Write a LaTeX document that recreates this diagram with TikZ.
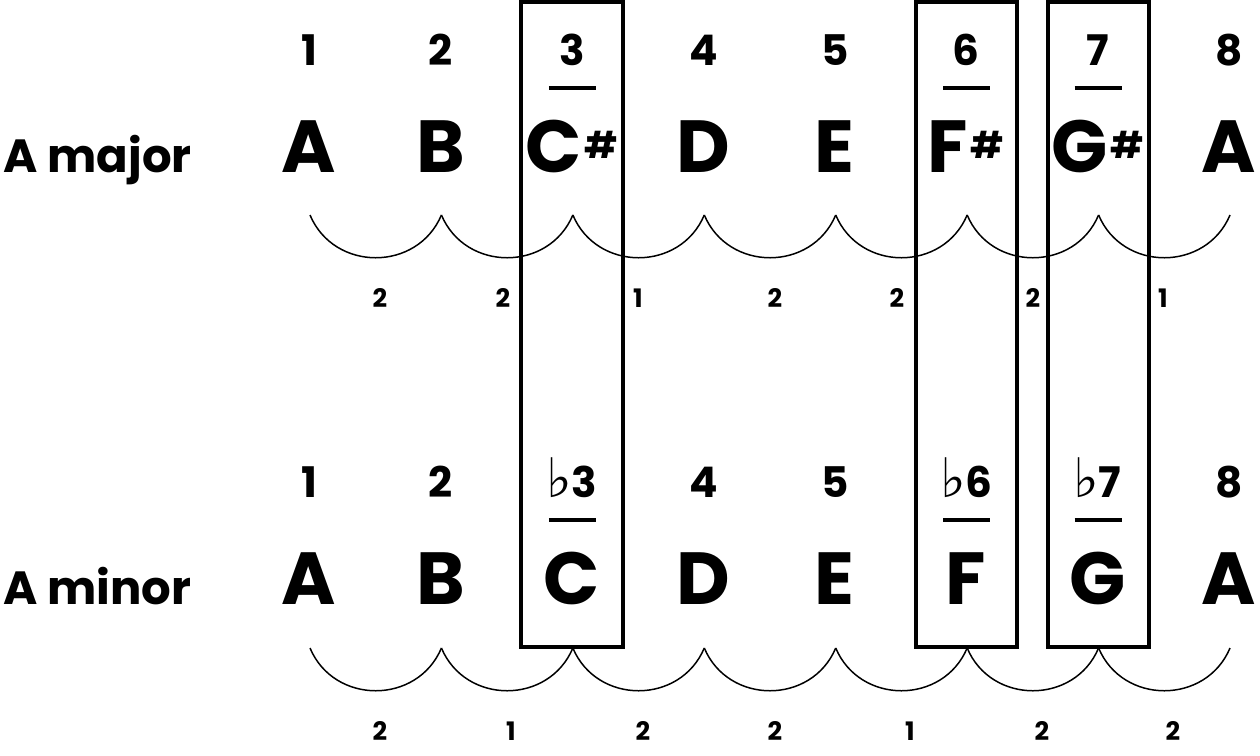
\documentclass[tikz,border=0pt]{standalone}
\usepackage{fontspec}
\setmainfont{Poppins}
\newfontfamily\symfont{DejaVu Sans}
\usetikzlibrary{calc}
\newcommand{\sh}[1]{#1\kern1.5pt\raisebox{7.5pt}{\fontsize{21}{21}\selectfont\#}}
\newcommand{\fl}[1]{{\symfont\fontsize{31}{31}\selectfont\mdseries ♭}\kern-0.5pt#1}
\tikzset{
  notename/.style={font=\fontsize{42}{42}\selectfont\bfseries, inner sep=0pt, anchor=base},
  degnum/.style={font=\fontsize{24}{24}\selectfont\bfseries, inner sep=0pt, anchor=base},
  stepnum/.style={font=\fontsize{14.5}{14.5}\selectfont\bfseries, inner sep=0pt, anchor=base},
  rowlab/.style={font=\fontsize{26.5}{26.5}\selectfont\bfseries, inner sep=0pt, anchor=base west},
  keybox/.style={draw, line width=2.3pt},
  halfbar/.style={line width=2.2pt},
  scoop/.style={line width=0.85pt},
}
\begin{document}
\begin{tikzpicture}[x=0.02cm,y=-0.02cm]
\useasboundingbox (0,0) rectangle (1260,755);
% boxes round the changed degrees
\draw[keybox] (521,2) rectangle (623,647);
\draw[keybox] (916,2) rectangle (1017,647);
\draw[keybox] (1048,2) rectangle (1149,647);
% row labels
\node[rowlab] (lmaj) at (3,172) {A major};
\node[rowlab] (lmin) at (3,604) {A minor};
% A major
\foreach \d/\n [count=\i] in {1/A,2/B,3/\sh{C},4/D,5/E,6/\sh{F},7/\sh{G},8/A}{
  \node[degnum] (jd\i) at ({309+(\i-1)*131.43},65) {\d};
  \node[notename] (jn\i) at ({309+(\i-1)*131.43},172) {\n};
  \coordinate (jc\i) at ({310+(\i-1)*131.43},215);
}
% A minor
\foreach \d/\n [count=\i] in {1/A,2/B,\fl{3}/C,4/D,5/E,\fl{6}/F,\fl{7}/G,8/A}{
  \node[degnum] (nd\i) at ({309+(\i-1)*131.43},497) {\d};
  \node[notename] (nn\i) at ({309+(\i-1)*131.43},604) {\n};
  \coordinate (nc\i) at ({310+(\i-1)*131.43},648);
}
% bars under altered degrees
\foreach \i in {3,6,7}{
  \draw[halfbar] ($(jn\i.base)+(-23,-84)$) -- ($(jn\i.base)+(24,-84)$);
  \draw[halfbar] ($(nn\i.base)+(-23,-84)$) -- ($(nn\i.base)+(24,-84)$);
}
% whole and half steps
\foreach \i [count=\j from 2] in {1,...,7}{
  \draw[scoop] (jc\i) .. controls +(24,57) and +(-24,57) .. (jc\j);
  \draw[scoop] (nc\i) .. controls +(24,57) and +(-24,57) .. (nc\j);
}
\foreach \x/\s [count=\i] in {380/2,503/2,638/1,775/2,897/2,1033/2,1163/1}
  \node[stepnum] (js\i) at (\x,307) {\s};
\foreach \x/\s [count=\i] in {380/2,511/1,643/2,775/2,910/1,1042/2,1173/2}
  \node[stepnum] (ns\i) at (\x,740) {\s};
\end{tikzpicture}
\end{document}
